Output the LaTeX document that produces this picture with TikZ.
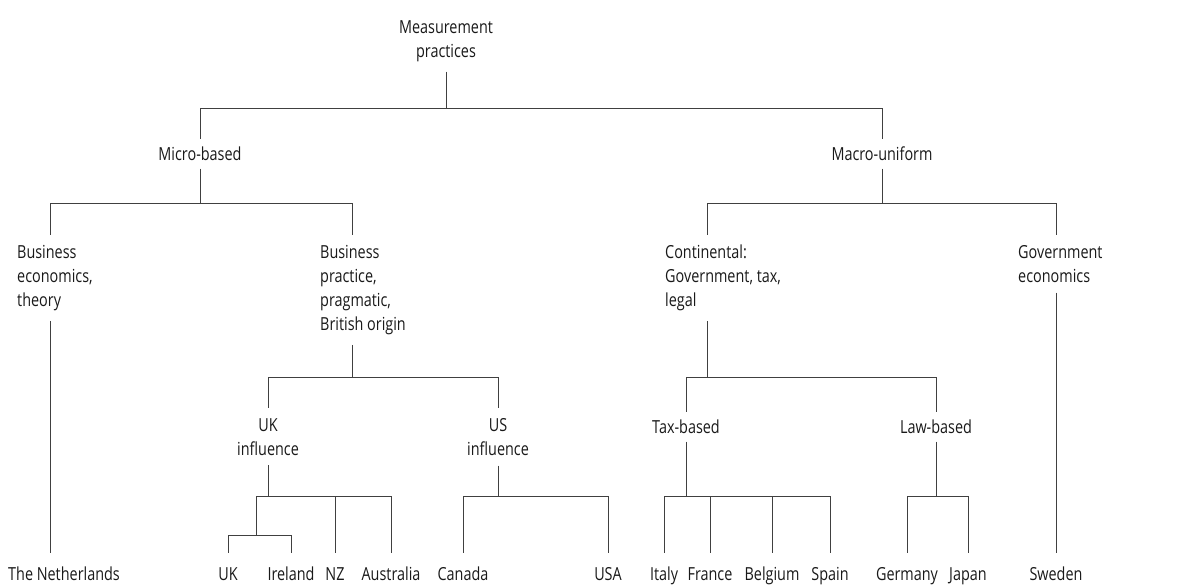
\documentclass[tikz,border=0pt]{standalone}
\usepackage{fontspec}
\setmainfont{Open Sans}[FakeStretch=0.8]

\begin{document}
\begin{tikzpicture}[
      x=1pt, y=-1pt,
      every node/.style={font=\fontsize{18}{24}\selectfont, text=black!90},
      group/.style={align=center, inner xsep=0pt, inner ysep=10pt, anchor=north},
      branch/.style={align=left, inner xsep=0pt, inner ysep=10pt, anchor=north west},
      cat/.style={text height=13pt, text depth=0pt, inner xsep=0pt, inner ysep=8pt},
      leaf/.style={text height=13pt, text depth=0pt, inner xsep=0pt, inner ysep=14pt},
      line/.style={draw, line width=0.8pt, black!75}
    ]
    \useasboundingbox (0,0) rectangle (1187,586);

    % Nodes
    \node [group] (root) at (446,10) {Measurement\\practices};
    \node [cat] (micro) at (200,154) {Micro-based};
    \node [cat] (macro) at (882,154) {Macro-uniform};
    \node [branch] (busecon) at (17,235) {Business\\economics,\\theory};
    \node [branch] (buspract) at (320,235) {Business\\practice,\\pragmatic,\\British origin};
    \node [branch] (contin) at (665,235) {Continental:\\Government, tax,\\legal};
    \node [branch] (goveco) at (1018,235) {Government\\economics};
    \node [group] (ukinf) at (268,408) {UK\\influence};
    \node [group] (usinf) at (498,408) {US\\influence};
    \node [cat] (taxb) at (686,427) {Tax-based};
    \node [cat] (lawb) at (936,427) {Law-based};

    \node [leaf, anchor=north west] (neth) at (8,553) {The Netherlands};
    \node [leaf] (uk) at (228,573.5) {UK};
    \node [leaf] (irl) at (291,573.5) {Ireland};
    \node [leaf] (nz) at (335,573.5) {NZ};
    \node [leaf] (aus) at (391,573.5) {Australia};
    \node [leaf] (can) at (463,573.5) {Canada};
    \node [leaf] (usa) at (608,573.5) {USA};
    \node [leaf] (ita) at (664,573.5) {Italy};
    \node [leaf] (fra) at (710,573.5) {France};
    \node [leaf] (bel) at (772,573.5) {Belgium};
    \node [leaf] (spa) at (830,573.5) {Spain};
    \node [leaf] (ger) at (907,573.5) {Germany};
    \node [leaf] (jap) at (968,573.5) {Japan};
    \node [leaf] (swe) at (1056,573.5) {Sweden};

    % Junctions
    \coordinate (j0) at (446,108);
    \coordinate (j1) at (200,203);
    \coordinate (j2) at (882,203);
    \coordinate (j3) at (352,377);
    \coordinate (j4) at (268,496);
    \coordinate (j5) at (256,535);
    \coordinate (j6) at (498,496);
    \coordinate (j7) at (707,377);
    \coordinate (j8) at (686,496);
    \coordinate (j9) at (936,496);

    % Paths
    \path [line] (root) -- (j0);
    \path [line] (j0) -| (micro);
    \path [line] (j0) -| (macro);
    \path [line] (micro) -- (j1);
    \path [line] (j1) -| ([xshift=33pt]busecon.north west);
    \path [line] (j1) -| ([xshift=32pt]buspract.north west);
    \path [line] (macro) -- (j2);
    \path [line] (j2) -| ([xshift=42pt]contin.north west);
    \path [line] (j2) -| ([xshift=38pt]goveco.north west);
    \path [line] ([xshift=33pt]busecon.south west) -- ([xshift=42pt]neth.north west);
    \path [line] ([xshift=32pt]buspract.south west) -- (j3);
    \path [line] (j3) -| (ukinf);
    \path [line] (j3) -| (usinf);
    \path [line] (ukinf) -- (j4);
    \path [line] (j4) -| (j5);
    \foreach \c in {uk, irl} \path [line] (j5) -| (\c);
    \foreach \c in {nz, aus} \path [line] (j4) -| (\c);
    \path [line] (usinf) -- (j6);
    \foreach \c in {can, usa} \path [line] (j6) -| (\c);
    \path [line] ([xshift=42pt]contin.south west) -- (j7);
    \path [line] (j7) -| (taxb);
    \path [line] (j7) -| (lawb);
    \path [line] (taxb) -- (j8);
    \foreach \c in {ita, fra, bel, spa} \path [line] (j8) -| (\c);
    \path [line] (lawb) -- (j9);
    \foreach \c in {ger, jap} \path [line] (j9) -| (\c);
    \path [line] ([xshift=38pt]goveco.south west) -- (swe);
  \end{tikzpicture}
\end{document}
